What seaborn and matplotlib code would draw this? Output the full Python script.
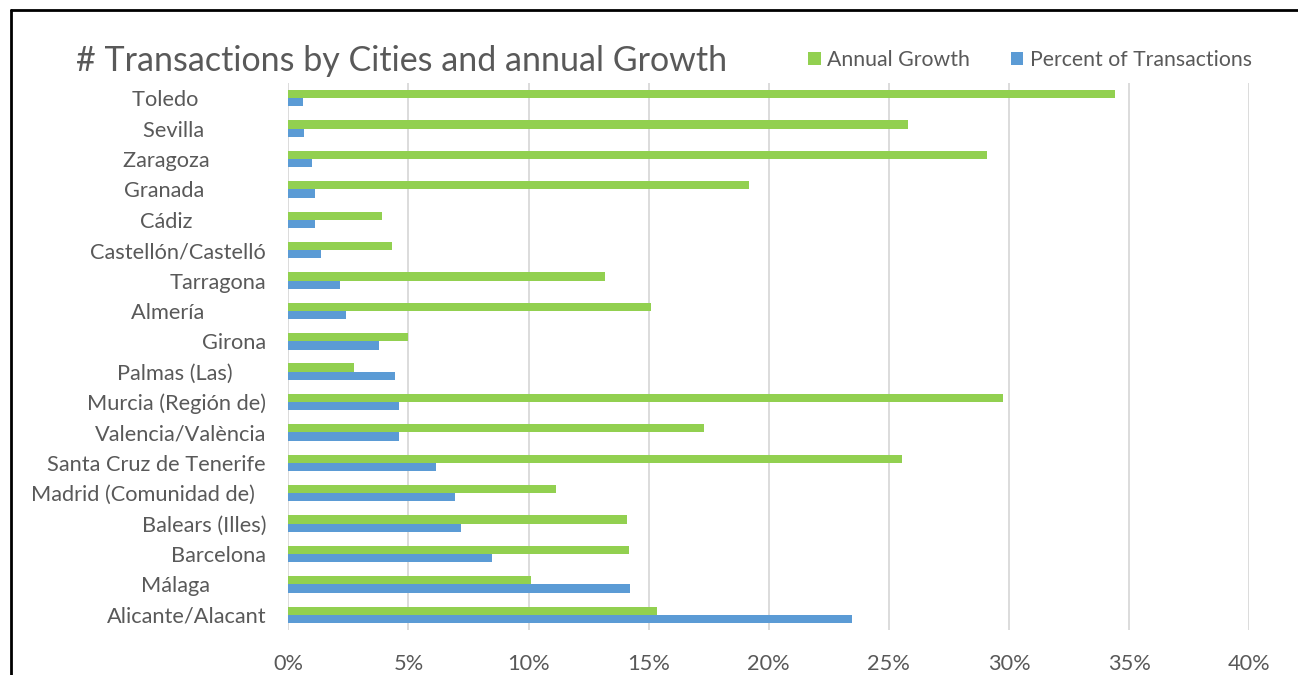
import pandas as pd
import matplotlib
matplotlib.use("Agg")
import matplotlib.pyplot as plt
import seaborn as sns
from matplotlib.ticker import FuncFormatter
from matplotlib.patches import Patch
from matplotlib.lines import Line2D

# === DATA ===
cities = ["Toledo", "Sevilla", "Zaragoza", "Granada", "Cádiz", "Castellón/Castelló",
          "Tarragona", "Almería", "Girona", "Palmas (Las)", "Murcia (Región de)",
          "Valencia/València", "Santa Cruz de Tenerife", "Madrid (Comunidad de)",
          "Balears (Illes)", "Barcelona", "Málaga", "Alicante/Alacant"]
annual_growth = [34.43, 25.80, 29.07, 19.19, 3.89, 4.30, 13.19, 15.08, 4.98, 2.73,
                 29.74, 17.29, 25.55, 11.13, 14.11, 14.18, 10.11, 15.34]
pct_transactions = [0.62, 0.64, 0.99, 1.10, 1.13, 1.36, 2.17, 2.40, 3.79, 4.44,
                    4.59, 4.62, 6.13, 6.94, 7.17, 8.46, 14.23, 23.46]
# trailing blanks the labels carry in the source sheet
trailing = [12, 11, 10, 11, 13, 0, 0, 11, 0, 6, 0, 0, 0, 2, 0, 0, 10, 0]
series = ["Annual Growth", "Percent of Transactions"]
xticks = [0, 5, 10, 15, 20, 25, 30, 35, 40]

df = pd.DataFrame({
    "city": cities * 2,
    "value": annual_growth + pct_transactions,
    "series": [series[0]] * len(cities) + [series[1]] * len(cities),
})

GREEN = "#92D050"
BLUE = "#5B9BD5"
GREY = "#595959"

sns.set_theme(style="white")
plt.rcParams["font.family"] = ["Lato", "DejaVu Sans"]

fig = plt.figure(figsize=(12.98, 6.75), dpi=100)
ax = fig.add_axes([288.3 / 1298, 1 - 630 / 675, (1249.3 - 288.3) / 1298, (630 - 83) / 675])

sns.barplot(data=df, y="city", x="value", hue="series", order=cities, hue_order=series,
            palette=[GREEN, BLUE], orient="h", width=0.54, ax=ax, legend=False,
            edgecolor="none", saturation=1)

ax.set_xlim(0, 40)
ax.set_xticks(xticks)
ax.xaxis.set_major_formatter(FuncFormatter(lambda v, p: f"{v:.0f}%"))
ax.grid(axis="x", color="#D9D9D9", linewidth=1.3)
ax.set_axisbelow(True)
for s in ax.spines.values():
    s.set_visible(False)
ax.set_xlabel("")
ax.set_ylabel("")
ax.set_yticks(range(len(cities)))
ax.set_yticklabels([c + " " * n for c, n in zip(cities, trailing)])
ax.tick_params(axis="y", length=0, pad=16, labelsize=15.7, labelcolor=GREY)
ax.tick_params(axis="x", length=0, pad=17, labelsize=15.7, labelcolor=GREY)

fig.text(76 / 1298, 1 - 61 / 675, "# Transactions by Cities and annual Growth",
         fontsize=24.5, color=GREY, va="center", ha="left")

handles = [Patch(facecolor=GREEN, edgecolor="none"), Patch(facecolor=BLUE, edgecolor="none")]
fig.legend(handles, series, loc="center left", bbox_to_anchor=(789 / 1298, 1 - 60 / 675),
           ncol=2, frameon=False, fontsize=15.3, labelcolor=GREY, handlelength=0.6,
           handleheight=0.6, handletextpad=0.3, columnspacing=1.9)

# outer chart frame (top and left edges visible)
fig.add_artist(Line2D([10.5 / 1298, 1.0], [1 - 9.5 / 675] * 2, color="black", lw=2,
                      transform=fig.transFigure))
fig.add_artist(Line2D([10.5 / 1298] * 2, [0, 1 - 9.5 / 675], color="black", lw=2,
                      transform=fig.transFigure))

fig.savefig("out.png", dpi=100)
